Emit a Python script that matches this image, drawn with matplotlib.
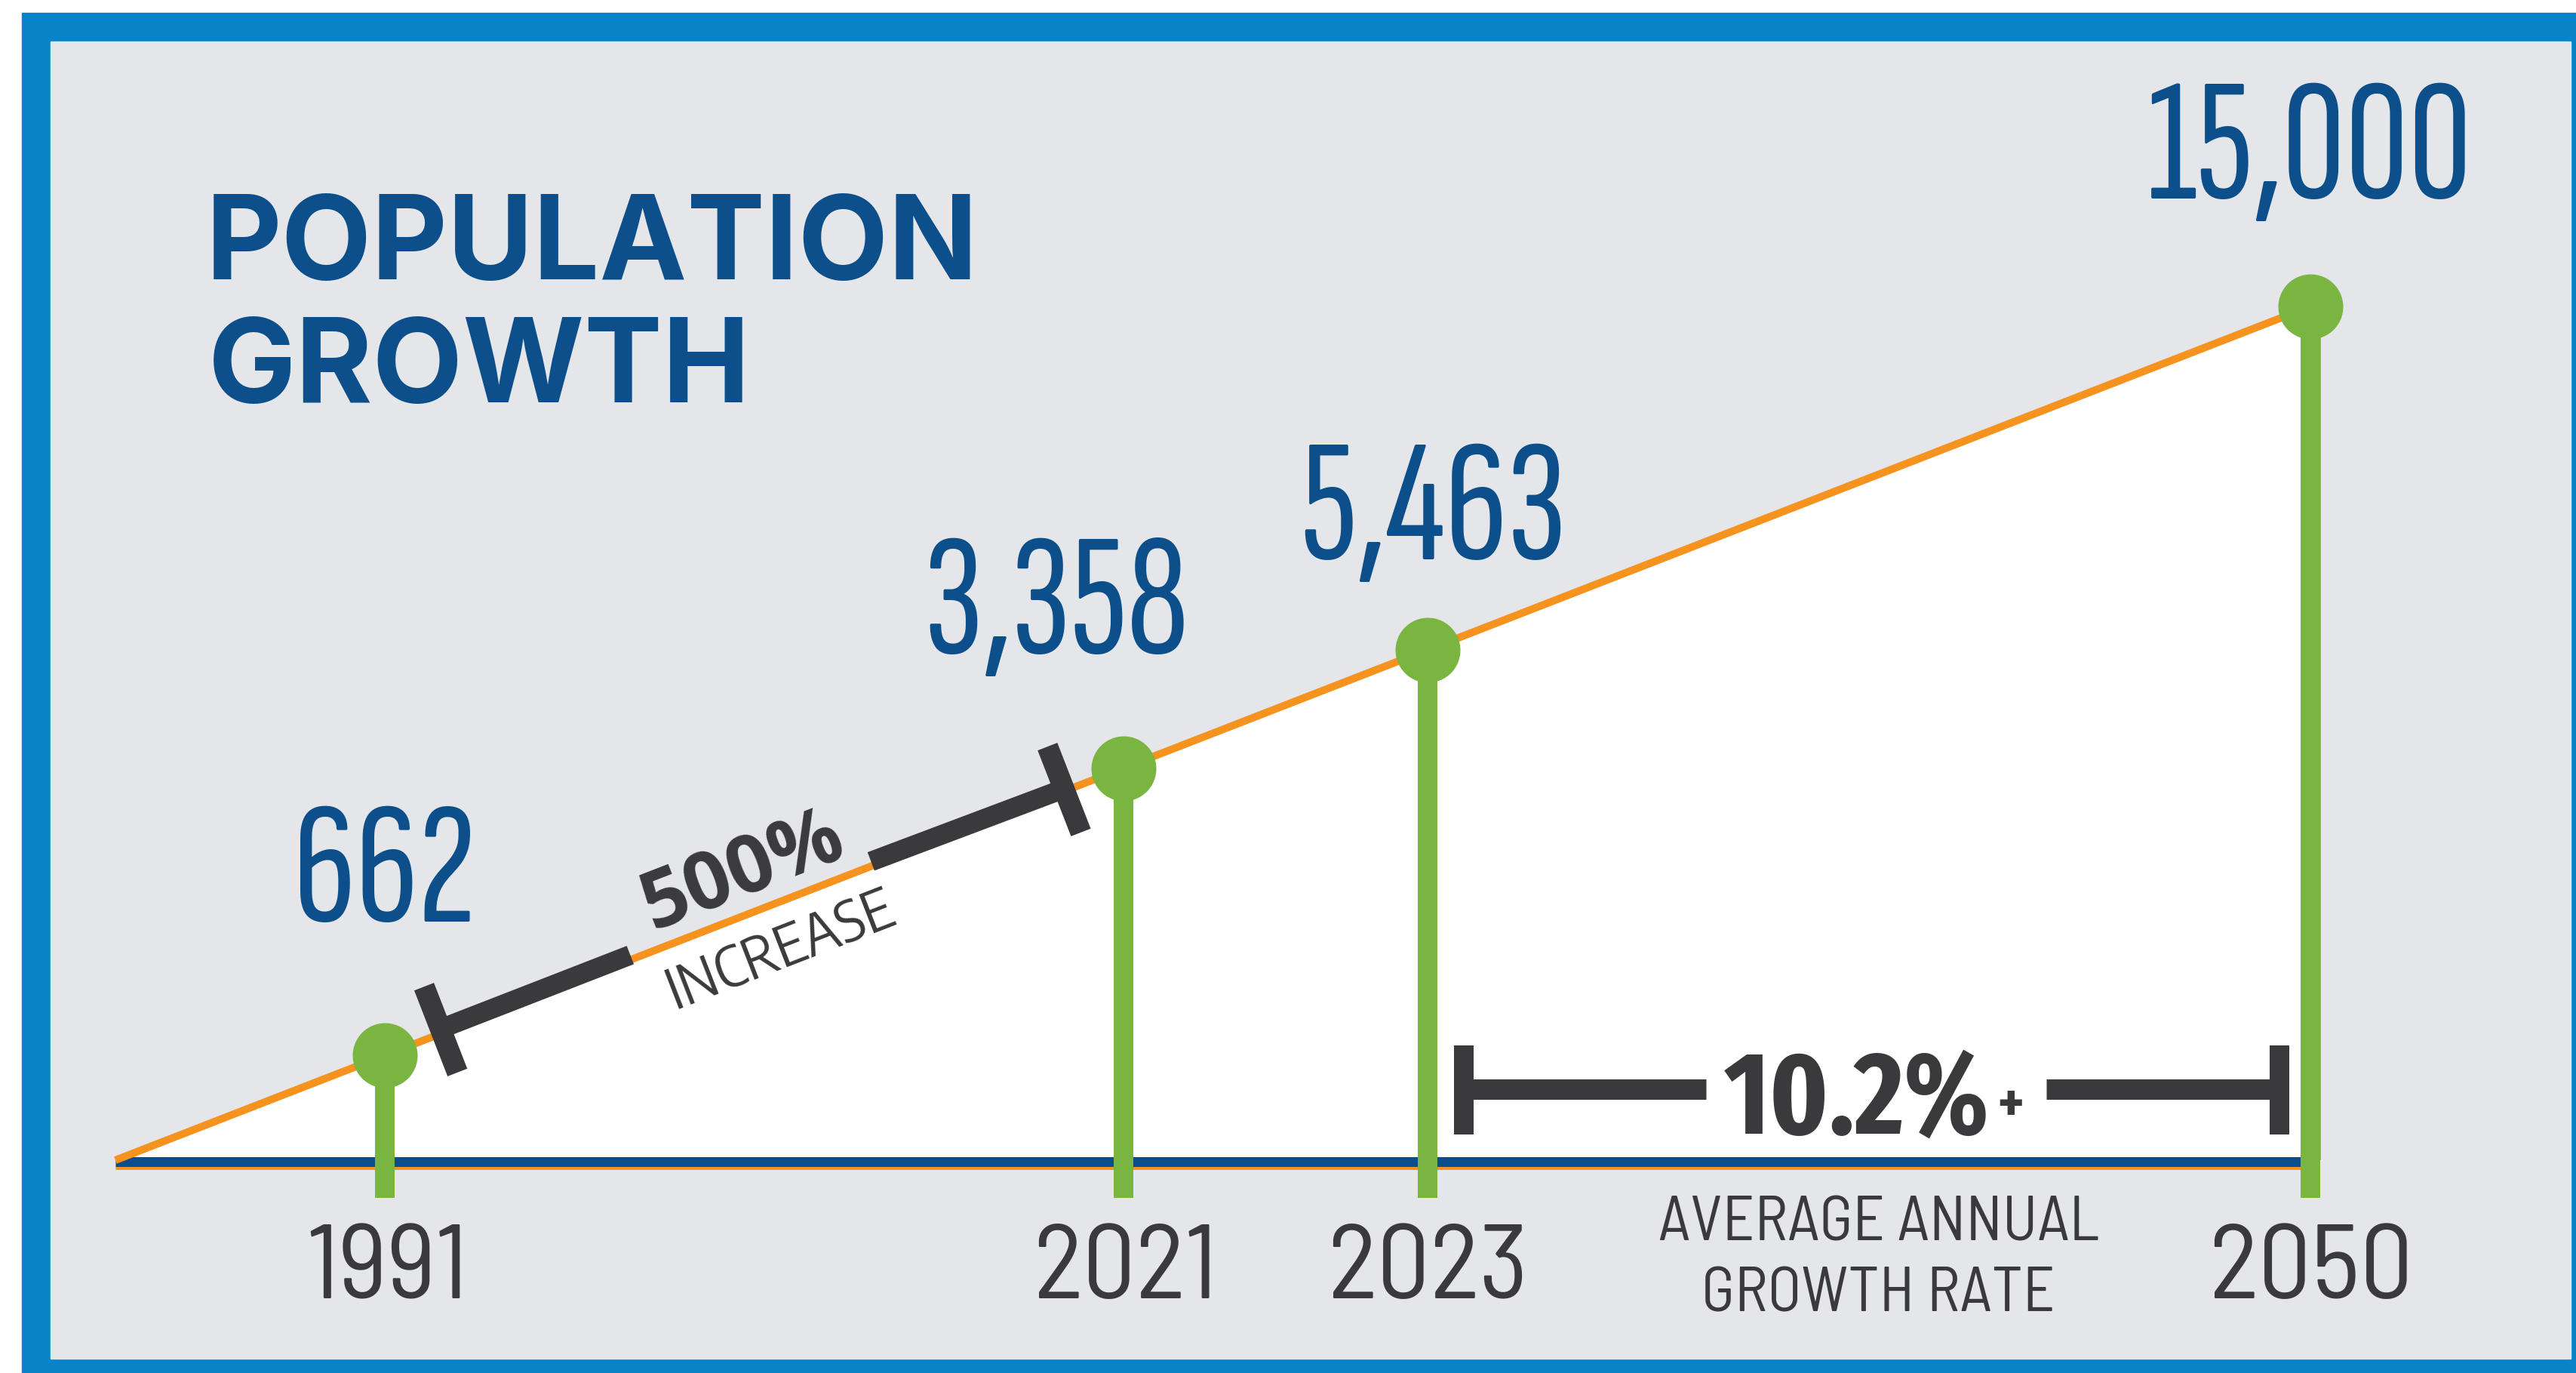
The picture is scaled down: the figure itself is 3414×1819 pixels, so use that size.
import matplotlib
matplotlib.use('Agg')
import matplotlib.pyplot as plt
from matplotlib import font_manager as fm
from matplotlib import transforms
from matplotlib.textpath import TextPath
from matplotlib.patches import Polygon, Rectangle
from matplotlib.lines import Line2D
import numpy as np

# ---------------- data ----------------
years = ['1991', '2021', '2023', '2050']
population = [662, 3358, 5463, 15000]
title_lines = ['POPULATION', 'GROWTH']
increase_value = '500%'
increase_text = 'INCREASE'
growth_value = '10.2%'
growth_suffix = '+'
growth_text = ['AVERAGE ANNUAL', 'GROWTH RATE']

# ---------------- layout (pixels, y down) ----------------
W, H, DPI = 3414, 1819, 100
X0, X1, Y0, Y1 = 153, 3062, 1537, 406
timeline_pos = [0.1227, 0.4593, 0.5978, 1.0]
label_dx = [1, -88, 7, -3]
label_dy = [253, 228, 196, 219]

NAVY = '#0D4F8B'
FRAME = '#0784C7'
PANEL = '#E4E6E9'
GREEN = '#7AB541'
ORANGE = '#F6921E'
DARK = '#3A3A3C'
BASE = '#0B4C8C'
PT = 72.0 / DPI

fig = plt.figure(figsize=(W / DPI, H / DPI), dpi=DPI)
fig.patch.set_facecolor('white')
PX = transforms.Affine2D().scale(1.0 / W, -1.0 / H).translate(0, 1) + fig.transFigure

fig.add_artist(Rectangle((29, 17), W - 29, H - 17, transform=PX, color=FRAME, zorder=-5))
fig.add_artist(Rectangle((67, 55), 3407 - 67, 1800 - 55, transform=PX, color=PANEL, zorder=-4))

ax = fig.add_axes([X0 / W, 1 - Y0 / H, (X1 - X0) / W, (Y0 - Y1) / H])
ax.set_xlim(0, 1)
ax.set_ylim(0, 1)
ax.axis('off')
ax_w = (X1 - X0)
ax_h = (Y0 - Y1)


def d2p(u, v):
    return PX.inverted().transform(ax.transData.transform((u, v)))


# ---------------- fonts ----------------
stretch_of = {}
for f in fm.fontManager.ttflist:
    stretch_of.setdefault(f.name, f.stretch)


def ink(text, fp):
    e = TextPath((0, 0), text, size=100, prop=fp).get_extents()
    return e.x0, e.x1, e.y0, e.y1


def font(families, cap_px, weight):
    for fam in families:
        if fam in stretch_of:
            break
    else:
        fam = 'DejaVu Sans'
    fp = fm.FontProperties(family=fam, stretch=stretch_of.get(fam, 'normal'), weight=weight)
    _, _, _, hc = ink('H', fp)
    fp = fp.copy()
    fp.set_size(cap_px * PT / (hc / 100.0))
    return fp


def put(text, cx, cy, fp, color, z=8, vref='H'):
    s = fp.get_size_in_points() / PT / 100.0
    x0, x1, y0, y1 = ink(text, fp)
    if vref:
        _, _, y0, y1 = ink(vref, fp)
    ax.text(cx - (x0 + x1) / 2 * s, cy + (y0 + y1) / 2 * s, text, transform=PX,
            fontproperties=fp, color=color, ha='left', va='baseline', clip_on=False, zorder=z)


def put_left(text, xl, yb, fp, color, z=8):
    s = fp.get_size_in_points() / PT / 100.0
    x0, x1, y0, y1 = ink(text, fp)
    ax.text(xl - x0 * s, yb, text, transform=PX, fontproperties=fp, color=color,
            ha='left', va='baseline', clip_on=False, zorder=z)


def put_rot(text, cx, cy, angle, fp, color, z=8):
    s = fp.get_size_in_points() / PT / 100.0
    x0, x1, y0, y1 = ink(text, fp)
    ox, oy = (x0 + x1) / 2 * s, (y0 + y1) / 2 * s
    a = np.radians(angle)
    rx = ox * np.cos(a) - oy * np.sin(a)
    ry = ox * np.sin(a) + oy * np.cos(a)
    ax.text(cx - rx, cy + ry, text, transform=PX, fontproperties=fp, color=color,
            rotation=angle, rotation_mode='anchor', ha='left', va='baseline',
            clip_on=False, zorder=z)


fp_title = font(['Inter', 'Lato', 'Roboto'], 113, 'bold')
fp_val = font(['Sofia Sans Extra Condensed', 'Fira Sans Extra Condensed', 'Roboto Condensed'],
              152, 'normal')
fp_year = font(['Barlow Semi Condensed', 'Roboto Condensed'], 98, 'normal')
fp_avg = font(['Barlow Semi Condensed', 'Roboto Condensed'], 58, 'normal')
fp_rate = font(['Fira Sans Extra Condensed', 'Roboto Condensed'], 107, 'bold')
fp_inc_v = font(['Open Sans', 'Inter'], 76, 'bold')
fp_inc_t = font(['Encode Sans Semi Condensed', 'Open Sans'], 55, 'normal')

# ---------------- chart ----------------
ax.add_patch(Polygon([(0, 0), (1, 1), (1 + 13 / ax_w, 1), (1 + 13 / ax_w, 0)], closed=True,
                     facecolor='white', edgecolor='none', zorder=1))
ax.plot([1 + 12 / ax_w] * 2, [0, 1], color=ORANGE, lw=4 * PT, zorder=1.5,
        solid_capstyle='butt', clip_on=False)
ax.plot([0, 1], [-10 / ax_h, -10 / ax_h], color=ORANGE, lw=5 * PT, zorder=2,
        solid_capstyle='butt', clip_on=False)
ax.plot([0, 1], [-1.5 / ax_h, -1.5 / ax_h], color=BASE, lw=13 * PT, zorder=2.5,
        solid_capstyle='butt', clip_on=False)
ax.plot([0, 1], [0, 1], color=ORANGE, lw=10 * PT, zorder=3, solid_capstyle='butt', clip_on=False)

stem_bottom = -50 / ax_h
for p in timeline_pos:
    ax.plot([p, p], [stem_bottom, p], color=GREEN, lw=26 * PT, solid_capstyle='butt',
            zorder=4, clip_on=False)
ax.plot(timeline_pos, timeline_pos, 'o', ms=86 * PT, color=GREEN, mew=0, zorder=5, clip_on=False)

# value labels and years
for p, v, dx, dy, yr in zip(timeline_pos, population, label_dx, label_dy, years):
    cx, cy = d2p(p, p)
    put(f'{v:,}', cx + dx, cy - dy, fp_val, NAVY)
    bx, _ = d2p(p, 0)
    put(yr, bx, 1671, fp_year, DARK)

# title
put_left(title_lines[0], 283, 370, fp_title, NAVY)
put_left(title_lines[1], 283, 533, fp_title, NAVY)


def seg(p, q, lw_px, z=6):
    ax.add_line(Line2D([p[0], q[0]], [p[1], q[1]], transform=PX, color=DARK,
                       lw=lw_px * PT, solid_capstyle='butt', clip_on=False, zorder=z))


# 500% bracket along the slope
P0 = np.array(d2p(0, 0))
P1 = np.array(d2p(1, 1))
dvec = (P1 - P0) / np.linalg.norm(P1 - P0)
up = np.array([dvec[1], -dvec[0]])
ang = np.degrees(np.arctan2(-dvec[1], dvec[0]))


def on_line(xpx):
    t = (xpx - P0[0]) / dvec[0]
    return P0 + t * dvec


xa = d2p(timeline_pos[0], 0)[0]
xb = d2p(timeline_pos[1], 0)[0]
mid = (xa + xb) / 2
cL = on_line(xa + 76) + up * 5
cR = on_line(xb - 78) + up * 2
seg(cL - up * 61, cL + up * 61, 28)
seg(cR - up * 61, cR + up * 61, 28)
seg(cL + up * 1, on_line(mid - 162) + up * 6, 26)
seg(on_line(mid + 157) + up * 6, cR + up * 1, 26)
c5 = on_line(mid + 6) + up * 64
put_rot(increase_value, c5[0], c5[1], ang, fp_inc_v, DARK)
ci = on_line(mid + 15) - up * 55
put_rot(increase_text, ci[0], ci[1], ang, fp_inc_t, DARK)

# 10.2% bracket
xc = d2p(timeline_pos[2], 0)[0] + 48
xd = d2p(timeline_pos[3], 0)[0] - 41
seg((xc, 1385), (xc, 1503), 26)
seg((xd, 1385), (xd, 1503), 26)
mid2 = (xc + xd) / 2
seg((xc, 1443), (mid2 - 220, 1443), 27)
seg((mid2 + 231, 1443), (xd, 1443), 27)
put(growth_value, mid2 - 22, 1448.5, fp_rate, DARK)
fp_plus = fp_rate.copy()
fp_plus.set_size(fp_rate.get_size_in_points() * 0.5)
put(growth_suffix, mid2 + 184, 1460, fp_plus, DARK, vref=None)
put(growth_text[0], mid2 + 10, 1614, fp_avg, DARK)
put(growth_text[1], mid2 + 10, 1708, fp_avg, DARK)

fig.savefig('out.png', dpi=DPI)
